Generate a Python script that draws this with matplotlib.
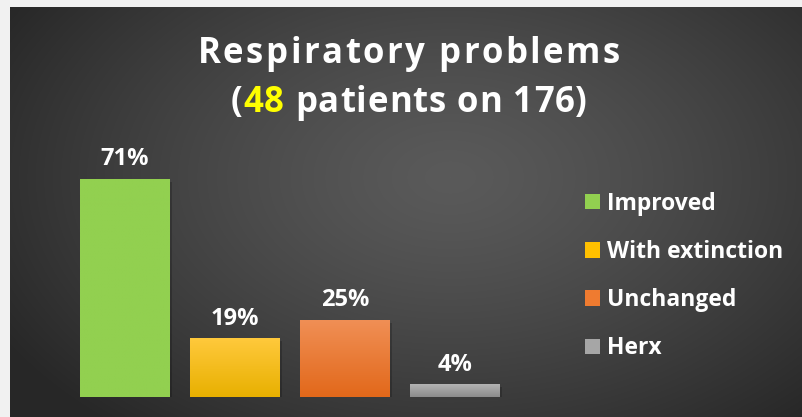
import numpy as np
import matplotlib.pyplot as plt
from matplotlib.colors import to_rgb
from matplotlib.patches import Patch
from matplotlib.offsetbox import TextArea, HPacker, AnnotationBbox
from matplotlib import patheffects as pe

plt.rcParams['font.family'] = ['Open Sans', 'DejaVu Sans']

# data
categories = ["Improved", "With extinction", "Unchanged", "Herx"]
values = [71, 19, 25, 4]
labels = ["71%", "19%", "25%", "4%"]
title_top = "Respiratory problems"
n_patients = "48"
n_total = "176"

# bar colours: (top, bottom) of each vertical gradient
grads = [("#92d050", "#92d050"),
         ("#ffc93c", "#e8b000"),
         ("#f08f55", "#e2681a"),
         ("#b4b4b4", "#8c8c8c")]
swatch = ["#92d050", "#ffc000", "#ef7b30", "#a6a6a6"]

W, H = 803, 417
fig = plt.figure(figsize=(W / 100, H / 100), dpi=100, facecolor="#f1f1f1")

# dark panel with a soft radial highlight
bg = fig.add_axes([10 / W, 0, (W - 10) / W, (H - 7) / H])
yy, xx = np.mgrid[0:410, 0:793]
d = np.sqrt(((xx - 440) / 520) ** 2 + ((yy - 170) / 330) ** 2)
shade = 0x5a - (0x5a - 0x27) * np.clip(d, 0, 1) ** 1.3
bg.imshow(np.dstack([shade / 255] * 3), aspect="auto", interpolation="bilinear")
bg.set_axis_off()

# bars
left, right = 59, 521
bottom_px, top_px = 20, 277
ax = fig.add_axes([left / W, bottom_px / H, (right - left) / W, (top_px - bottom_px) / H])
ax.set_axis_off()
ax.patch.set_alpha(0)

x = np.arange(len(values))
bars = ax.bar(x, values, width=0.81, color="none", edgecolor="none")
for b, (c_top, c_bot) in zip(bars, grads):
    x0, y0 = b.get_x(), b.get_y()
    w, h = b.get_width(), b.get_height()
    # soft drop shadow
    ax.add_patch(plt.Rectangle((x0 + 0.01, y0 - 0.4), w, h, color="black", alpha=0.15, zorder=1,
                               path_effects=[pe.SimplePatchShadow(offset=(1, -1), alpha=0.2)]))
    g = np.linspace(0, 1, 100)[:, None, None]
    img = np.array(to_rgb(c_top)) * (1 - g) + np.array(to_rgb(c_bot)) * g
    ax.imshow(img, extent=(x0, x0 + w, y0, y0 + h), aspect="auto", zorder=2,
              interpolation="bilinear")
ax.set_xlim(-0.6, 3.6)
ax.set_ylim(0, (top_px - bottom_px) / 3.07)

for xi, v, lab in zip(x, values, labels):
    ax.annotate(lab, (xi, v), xytext=(0, 10), textcoords="offset points",
                ha="center", va="baseline", color="white", fontsize=17, fontweight="bold")


# title, drawn letter by letter so it can be spaced out
def spaced(parts, size, sep):
    kids = []
    for s, col in parts:
        for ch in s:
            kids.append(TextArea(ch, textprops=dict(color=col, fontsize=size, fontweight="bold")))
    return HPacker(children=kids, pad=0, sep=sep, align="baseline")


line1 = spaced([(title_top, "white")], 25, 1.8)
line2 = spaced([("(", "white"), (n_patients, "#ffff00"),
                (" patients on " + n_total + ")", "white")], 25, 0.7)
for box, ypx in [(line1, 54), (line2, 103)]:
    fig.add_artist(AnnotationBbox(box, (0.509, 1 - ypx / H), xycoords="figure fraction",
                                  frameon=False, box_alignment=(0.5, 0.5)))

# legend
handles = [Patch(facecolor=c, edgecolor="none") for c in swatch]
leg = fig.legend(handles, categories, loc="upper left", bbox_to_anchor=(564 / W, 1 - 171 / H),
                 frameon=False, fontsize=16.5, handlelength=0.68, handleheight=0.68,
                 handletextpad=0.3, labelspacing=1.06)
for txt in leg.get_texts():
    txt.set_color("white")
    txt.set_fontweight("bold")

fig.savefig("out.png", dpi=100, facecolor=fig.get_facecolor())
